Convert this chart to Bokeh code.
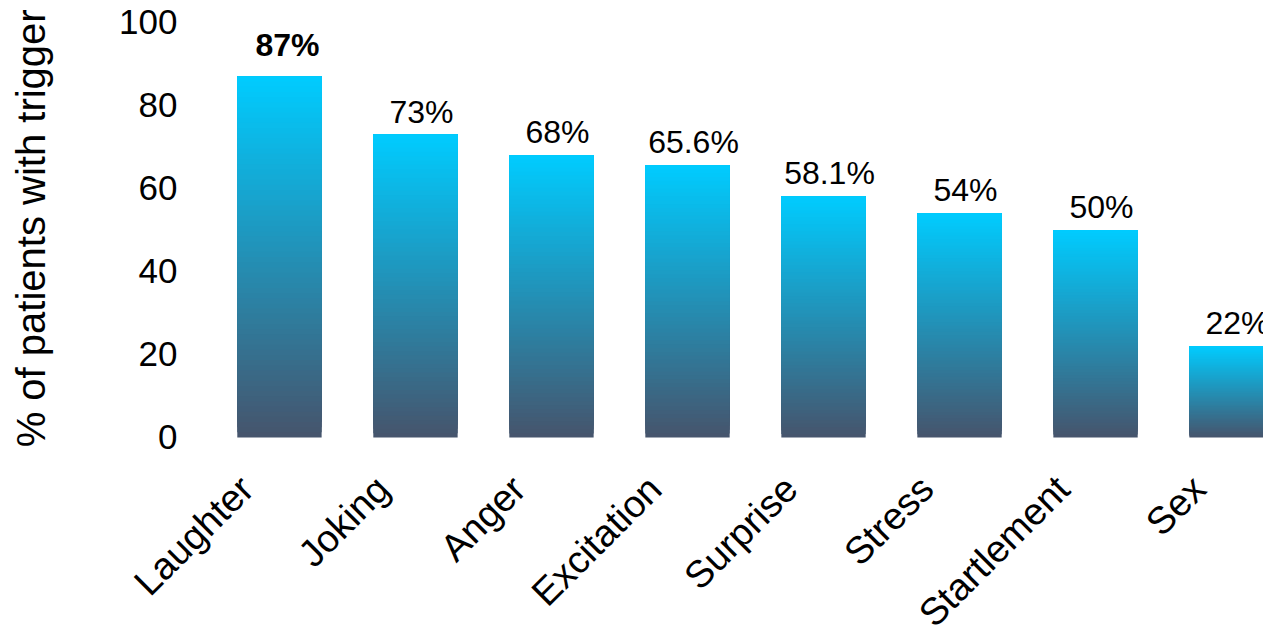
import math
from bokeh.plotting import figure
from bokeh.models import Range1d, FixedTicker, ColumnDataSource
from bokeh.core.properties import value
from bokeh.embed import file_html
from bokeh.resources import INLINE

categories = ["Laughter", "Joking", "Anger", "Excitation", "Surprise", "Stress", "Startlement", "Sex"]
percent = [87, 73, 68, 65.6, 58.1, 54, 50, 22]
y_ticks = [0, 20, 40, 60, 80, 100]
y_title = "% of patients with trigger"

FONT = "Liberation Sans"
TOP_RGB = (0, 204, 255)
BOTTOM_RGB = (70, 84, 108)
N_SLICES = 70
BAR_W = 0.62
LABEL_SHIFT = -0.24   # category labels end a little left of bar centres
YAXIS_AT = -0.581     # x position where the value axis sits
YTITLE_X, YTITLE_Y = -1.83, 50.4

p = figure(width=1263, height=631, output_backend="svg", toolbar_location=None,
           x_range=Range1d(-2.051, 7.235), y_range=Range1d(-46.75, 105.3),
           min_border=0)
p.outline_line_color = None
p.xgrid.grid_line_color = None
p.ygrid.grid_line_color = None
p.background_fill_color = "white"
p.border_fill_color = "white"

# gradient bars: overlapping slices from slice bottom up to bar top
lefts, rights, bottoms, tops, colors = [], [], [], [], []
for i, v in enumerate(percent):
    for k in range(N_SLICES):
        t = (k + 0.5) / N_SLICES
        r = round(BOTTOM_RGB[0] + (TOP_RGB[0] - BOTTOM_RGB[0]) * t)
        g = round(BOTTOM_RGB[1] + (TOP_RGB[1] - BOTTOM_RGB[1]) * t)
        b = round(BOTTOM_RGB[2] + (TOP_RGB[2] - BOTTOM_RGB[2]) * t)
        lefts.append(i - BAR_W / 2)
        rights.append(i + BAR_W / 2)
        bottoms.append(v * k / N_SLICES)
        tops.append(v)
        colors.append("#%02x%02x%02x" % (r, g, b))
p.quad(left=lefts, right=rights, bottom=bottoms, top=tops, fill_color=colors, line_color=None)

labels = [f"{v:g}%" for v in percent]
xs = list(range(len(categories)))
src_first = ColumnDataSource(dict(x=xs[:1], y=percent[:1], t=labels[:1]))
src_rest = ColumnDataSource(dict(x=xs[1:], y=percent[1:], t=labels[1:]))
p.text(x="x", y="y", text="t", source=src_first, text_align="center", text_baseline="alphabetic",
       x_offset=8, y_offset=-31, text_font=value(FONT), text_font_size="32px",
       text_font_style="bold", text_color="#000000")
p.text(x="x", y="y", text="t", source=src_rest, text_align="center", text_baseline="alphabetic",
       x_offset=6, y_offset=-23, text_font=value(FONT), text_font_size="32px",
       text_color="#000000")

# value-axis title
p.text(x=[YTITLE_X], y=[YTITLE_Y], text=[y_title], angle=math.pi / 2, text_align="center",
       text_baseline="middle", text_font=value(FONT), text_font_size="40px", text_color="#000000")

# x axis drawn at y = 0
tick_pos = [round(i + LABEL_SHIFT, 2) for i in xs]
p.xaxis.fixed_location = 0
p.xaxis.ticker = FixedTicker(ticks=tick_pos)
p.xaxis.major_label_overrides = {tp: c for tp, c in zip(tick_pos, categories)}
p.xaxis.major_label_orientation = math.pi / 4
p.xaxis.major_label_text_font = FONT
p.xaxis.major_label_text_font_size = "38px"
p.xaxis.major_label_text_color = "#000000"
p.xaxis.major_label_standoff = 39
p.xaxis.axis_line_color = None
p.xaxis.major_tick_line_color = None
p.xaxis.minor_tick_line_color = None

# y axis
p.yaxis.fixed_location = YAXIS_AT
p.yaxis.ticker = FixedTicker(ticks=y_ticks)
p.yaxis.major_label_text_font = FONT
p.yaxis.major_label_text_font_size = "35px"
p.yaxis.major_label_text_color = "#000000"
p.yaxis.major_label_standoff = 17
p.yaxis.axis_line_color = None
p.yaxis.major_tick_line_color = None
p.yaxis.minor_tick_line_color = None

open("out.html", "w").write(file_html(p, INLINE))
